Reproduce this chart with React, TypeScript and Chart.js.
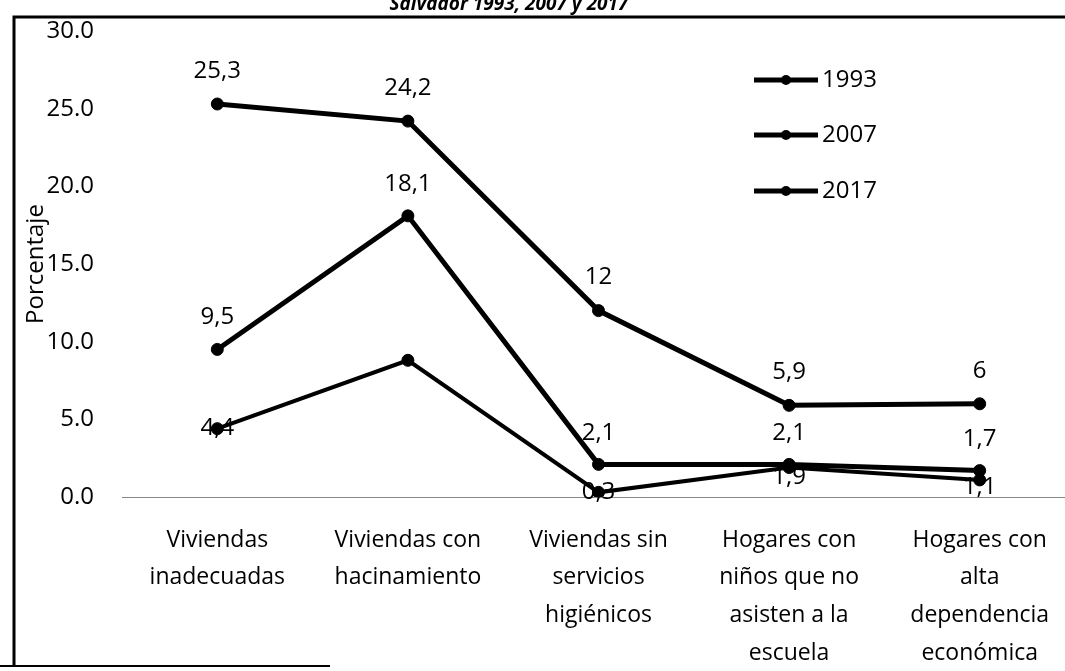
import React, { useEffect, useRef } from "react";
import { Chart, registerables } from "chart.js";

Chart.register(...registerables);

// ---------- data ----------
const categories: string[][] = [
  ["Viviendas", "inadecuadas"],
  ["Viviendas con", "hacinamiento"],
  ["Viviendas sin", "servicios", "higiénicos"],
  ["Hogares con", "niños que no", "asisten a la", "escuela"],
  ["Hogares con", "alta", "dependencia", "económica"],
];
const seriesNames = ["1993", "2007", "2017"];
const values1993 = [25.3, 24.2, 12, 5.9, 6];
const values2007 = [9.5, 18.1, 2.1, 2.1, 1.7];
const values2017 = [4.4, 8.8, 0.3, 1.9, 1.1];
const yTicks = [0, 5, 10, 15, 20, 25, 30];
const titleText = "Salvador 1993, 2007 y 2017";
const yAxisTitle = "Porcentaje";

// ---------- styles ----------
const FONT = "'Open Sans', 'DejaVu Sans', sans-serif";
const LABEL_DY: (number | null)[][] = [
  [-33, -33, -33, -33, -33],
  [-32, -32, -31, -31, -31],
  [0, null, 0, 10, 7],
];
const LEGEND_Y = [80, 135, 191];
const LINE_WIDTHS = [5, 5, 4];

const decor = {
  id: "decor",
  afterDatasetsDraw(chart: any) {
    const ctx = chart.ctx as CanvasRenderingContext2D;
    ctx.save();
    ctx.fillStyle = "#000";
    ctx.font = `24px ${FONT}`;
    ctx.textAlign = "center";
    ctx.textBaseline = "middle";
    chart.data.datasets.forEach((ds: any, i: number) => {
      const meta = chart.getDatasetMeta(i);
      meta.data.forEach((pt: any, j: number) => {
        const dy = LABEL_DY[i][j];
        if (dy === null) return;
        const v = ds.data[j];
        ctx.fillText(String(v).replace(".", ","), pt.x, pt.y + dy);
      });
    });
    ctx.restore();
  },
  afterDraw(chart: any) {
    const ctx = chart.ctx as CanvasRenderingContext2D;
    ctx.save();
    // frame
    ctx.strokeStyle = "#000";
    ctx.lineWidth = 3;
    ctx.beginPath();
    ctx.moveTo(14, 666);
    ctx.lineTo(14, 17);
    ctx.lineTo(1085, 17);
    ctx.stroke();
    ctx.lineWidth = 2;
    ctx.beginPath();
    ctx.moveTo(0, 666);
    ctx.lineTo(330, 666);
    ctx.stroke();
    // title (cut at the top)
    ctx.fillStyle = "#000";
    ctx.font = `italic bold 19px ${FONT}`;
    ctx.textAlign = "center";
    ctx.textBaseline = "alphabetic";
    ctx.fillText(titleText, 509, 10);
    // legend
    chart.data.datasets.forEach((ds: any, i: number) => {
      const y = LEGEND_Y[i];
      ctx.strokeStyle = "#000";
      ctx.lineWidth = 5;
      ctx.beginPath();
      ctx.moveTo(754, y);
      ctx.lineTo(818, y);
      ctx.stroke();
      ctx.beginPath();
      ctx.arc(786, y, 5, 0, Math.PI * 2);
      ctx.fill();
      ctx.font = `24px ${FONT}`;
      ctx.textAlign = "left";
      ctx.textBaseline = "middle";
      ctx.fillText(ds.label, 822, y);
    });
    ctx.restore();
  },
};

export default function App() {
  const ref = useRef<HTMLCanvasElement | null>(null);
  useEffect(() => {
    document.body.style.margin = "0";
    if (!ref.current) return;
    const allValues = [values1993, values2007, values2017];
    const chart = new Chart(ref.current, {
      type: "line",
      data: {
        labels: categories,
        datasets: seriesNames.map((name, i) => ({
          label: name,
          data: allValues[i],
          borderColor: "#000",
          backgroundColor: "#000",
          borderWidth: LINE_WIDTHS[i],
          pointRadius: 6,
          pointBackgroundColor: "#000",
          pointBorderColor: "#000",
          pointBorderWidth: 1,
          tension: 0,
          fill: false,
        })),
      },
      options: {
        responsive: false,
        animation: false,
        devicePixelRatio: 1,
        layout: { padding: { left: 0, right: 10, top: 31, bottom: 0 } },
        plugins: {
          legend: { display: false },
          tooltip: { enabled: false },
          title: { display: false },
        },
        scales: {
          x: {
            type: "category",
            offset: true,
            grid: { display: false, drawTicks: false },
            border: { display: true, color: "#888", dash: [2, 9], width: 1 },
            ticks: {
              color: "#000",
              padding: 24,
              maxRotation: 0,
              autoSkip: false,
              font: { family: FONT, size: 23, lineHeight: 1.65 },
            },
            afterFit: (scale: any) => {
              scale.height = 174;
              scale.paddingLeft = 0;
              scale.paddingRight = 0;
            },
          },
          y: {
            min: 0,
            max: 30,
            grid: { display: false, drawTicks: false },
            border: { display: false },
            afterBuildTicks: (scale: any) => {
              scale.ticks = yTicks.map((v) => ({ value: v }));
            },
            ticks: {
              color: "#000",
              padding: 28,
              font: { family: FONT, size: 24 },
              callback: (v: any) => Number(v).toFixed(1),
            },
            title: {
              display: true,
              text: yAxisTitle,
              color: "#000",
              padding: { top: 22, bottom: 0 },
              font: { family: FONT, size: 24 },
            },
            afterFit: (scale: any) => {
              scale.width = 122;
              scale.paddingTop = 0;
              scale.paddingBottom = 0;
            },
          },
        },
      },
      plugins: [decor],
    });
    return () => chart.destroy();
  }, []);
  return (
    <div style={{ width: 1065, height: 671, overflow: "hidden", background: "#fff" }}>
      <canvas ref={ref} width={1085} height={671} style={{ display: "block" }} />
    </div>
  );
}
